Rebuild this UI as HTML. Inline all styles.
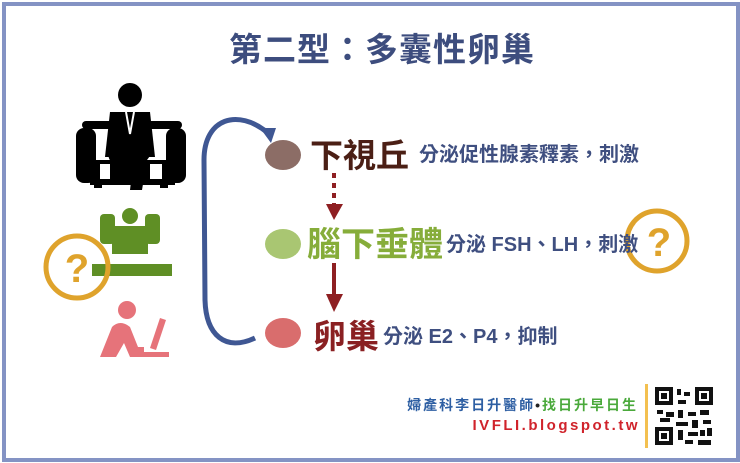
<!DOCTYPE html>
<html><head><meta charset="utf-8"><style>
html,body{margin:0;padding:0;background:#fff;}
body{width:740px;height:463px;position:relative;overflow:hidden;font-family:"Liberation Sans","Noto Sans CJK TC",sans-serif;}
.frame{position:absolute;left:2px;top:2px;width:730px;height:452px;border:4px solid #8493c4;}
.t{position:absolute;white-space:nowrap;font-weight:bold;line-height:1;}
</style></head><body>
<div class="frame"></div>
<div class="t" style="left:229px;top:33px;font-size:33px;color:#3d4d7e;letter-spacing:1px;">第二型：多囊性卵巢</div>

<svg style="position:absolute;left:0;top:0" width="740" height="463">
 <path d="M255,338 C225,352 206,335 205,300 L204,160 C204,118 238,108 268,133" fill="none" stroke="#3f5793" stroke-width="5"/>
 <polygon points="260,128 276,128 271,143" fill="#3f5793"/>
 <ellipse cx="283" cy="155" rx="18" ry="15" fill="#8c6d66"/>
 <ellipse cx="283" cy="244" rx="18" ry="15" fill="#a9c672"/>
 <ellipse cx="283" cy="333" rx="18" ry="15" fill="#d96d6d"/>
 <line x1="334" y1="173" x2="334" y2="204" stroke="#8e1f22" stroke-width="4" stroke-dasharray="5,5"/>
 <polygon points="326,204 343,204 334,220" fill="#8e1f22"/>
 <line x1="334" y1="263" x2="334" y2="295" stroke="#8e1f22" stroke-width="4"/>
 <polygon points="326,294 343,294 334,312" fill="#8e1f22"/>
 <g fill="#000">
  <circle cx="130" cy="95" r="12"/>
  <rect x="82" y="121" width="100" height="8" rx="4"/>
  <path d="M110,112 h40 l5,45 h-50 z"/>
  <rect x="76" y="128" width="20" height="55" rx="8"/>
  <rect x="166" y="128" width="20" height="55" rx="8"/>
  <rect x="90" y="160" width="85" height="25"/>
  <path d="M112,138 h35 q10,10 0,22 l-5,30 h-12 l3,-25 h-20 q-10,-12 -1,-27z"/>
  <rect x="94" y="185" width="8" height="3"/><rect x="160" y="185" width="8" height="3"/>
 </g>
 <path d="M126,112 l4,22 l4,-22" fill="none" stroke="#fff" stroke-width="2"/>
 <rect x="100" y="164" width="10" height="15" fill="#fff"/><rect x="150" y="164" width="12" height="15" fill="#fff"/>
 <g fill="#5f8f25">
  <circle cx="130" cy="216" r="8"/>
  <rect x="100" y="214" width="15" height="30" rx="4"/>
  <rect x="145" y="214" width="15" height="30" rx="4"/>
  <path d="M112,226 h36 v28 h-36z"/>
  <rect x="92" y="264" width="80" height="12"/>
 </g>
 <circle cx="77" cy="267" r="31" fill="none" stroke="#dfa32c" stroke-width="5"/>
 <text x="77" y="282" text-anchor="middle" font-size="40" font-weight="bold" fill="#dfa32c" font-family="Liberation Sans">?</text>
 <g fill="#e6737a">
  <circle cx="127" cy="310" r="9"/>
  <path d="M100,357 l12,-30 q8,-8 18,0 l8,20 h6 v10 h-14 l-6,-14 l-8,14z"/>
  <polygon points="160,318 166,320 156,350 150,348"/>
  <rect x="137" y="352" width="32" height="5"/>
 </g>
 <circle cx="657" cy="241" r="30" fill="none" stroke="#dfa32c" stroke-width="5"/>
 <text x="659" y="256" text-anchor="middle" font-size="40" font-weight="bold" fill="#dfa32c" font-family="Liberation Sans">?</text>
 <rect x="645" y="384" width="3" height="64" fill="#f3c050"/>
 <g fill="#111">
  <rect x="655" y="387" width="18" height="18"/><rect x="659" y="391" width="10" height="10" fill="#fff"/><rect x="661" y="393" width="6" height="6"/>
  <rect x="695" y="387" width="18" height="18"/><rect x="699" y="391" width="10" height="10" fill="#fff"/><rect x="701" y="393" width="6" height="6"/>
  <rect x="655" y="427" width="18" height="18"/><rect x="659" y="431" width="10" height="10" fill="#fff"/><rect x="661" y="433" width="6" height="6"/>
  <rect x="677" y="389" width="4" height="6"/><rect x="684" y="392" width="6" height="4"/><rect x="678" y="400" width="8" height="4"/>
  <rect x="657" y="410" width="6" height="4"/><rect x="666" y="412" width="8" height="5"/><rect x="678" y="410" width="5" height="8"/>
  <rect x="688" y="412" width="8" height="4"/><rect x="700" y="410" width="9" height="5"/><rect x="660" y="418" width="10" height="4"/>
  <rect x="676" y="422" width="12" height="4"/><rect x="692" y="420" width="6" height="8"/><rect x="703" y="420" width="8" height="4"/>
  <rect x="678" y="430" width="5" height="10"/><rect x="688" y="432" width="10" height="4"/><rect x="700" y="430" width="5" height="6"/>
  <rect x="685" y="440" width="8" height="4"/><rect x="698" y="440" width="13" height="5"/><rect x="707" y="428" width="5" height="8"/>
 </g>
</svg>

<div class="t" style="left:310px;top:139px;font-size:33px;color:#4b1f15;">下視丘</div>
<div class="t" style="left:419px;top:145px;font-size:20px;color:#3f4f80;">分泌促性腺素釋素，刺激</div>
<div class="t" style="left:307px;top:228px;font-size:34px;color:#86ad3a;">腦下垂體</div>
<div class="t" style="left:446px;top:235px;font-size:20px;color:#3f4f80;">分泌 FSH、LH，刺激</div>
<div class="t" style="left:313px;top:320px;font-size:33px;color:#8a2022;">卵巢</div>
<div class="t" style="left:383px;top:327px;font-size:20px;color:#3f4f80;">分泌 E2、P4，抑制</div>

<div class="t" style="right:102px;top:398px;font-size:14px;letter-spacing:2px;color:#2e5fa3;text-align:right;">婦產科李日升醫師<span style="color:#222">•</span><span style="color:#4aa93b">找日升早日生</span></div>
<div class="t" style="right:100px;top:418px;font-size:15px;letter-spacing:2.5px;color:#d0232b;text-align:right;">IVFLI.blogspot.tw</div>
</body></html>
